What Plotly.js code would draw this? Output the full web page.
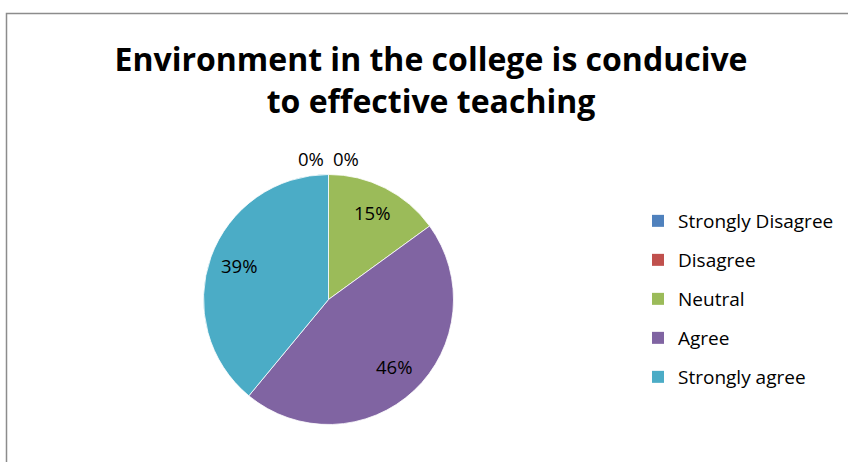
<!DOCTYPE html>
<html>
<head>
<meta charset="utf-8">
<script src="https://cdn.plot.ly/plotly-3.0.1.min.js"></script>
<style>html,body{margin:0;padding:0;background:#fff;}#chart{width:848px;height:462px;}</style>
</head>
<body>
<div id="chart"></div>
<script>
const categories = ["Strongly Disagree", "Disagree", "Neutral", "Agree", "Strongly agree"];
const values = [0, 0, 15, 46, 39];
const colors = ["#4F81BD", "#C0504D", "#9BBB59", "#8064A2", "#4BACC6"];
const titleLine1 = "Environment in the college is conducive";
const titleLine2 = "to effective teaching";

const FONT = "'Open Sans', sans-serif";
const W = 848, H = 462;
const CX = 328.5, CY = 299.5, R = 125;

const pie = {
  type: "pie",
  labels: categories,
  values: values,
  sort: false,
  direction: "clockwise",
  rotation: 0,
  marker: {colors: colors, line: {color: "#ffffff", width: 0.8}},
  textinfo: "none",
  domain: {x: [(CX - R) / W, (CX + R) / W], y: [1 - (CY + R) / H, 1 - (CY - R) / H]},
  showlegend: false,
  hoverinfo: "label+value"
};

const legendTraces = categories.map((c, i) => ({
  type: "scatter",
  x: [null], y: [null],
  mode: "markers",
  name: c,
  legendgroup: "g" + i,
  marker: {symbol: "square", size: 12, color: colors[i], line: {width: 0}},
  hoverinfo: "skip"
}));

// data labels placed along each slice's bisector (derived from the values)
const total = values.reduce((a, b) => a + b, 0);
const annotations = [];
let cum = 0;
const zeroIdx = values.map((v, i) => v === 0 ? i : -1).filter(i => i >= 0);
values.forEach((v, i) => {
  const mid = (cum + v / 2) / total * 2 * Math.PI;
  cum += v;
  const pct = Math.round(v / total * 100) + "%";
  let px, py;
  if (v === 0) {
    const k = zeroIdx.indexOf(i);
    px = CX + (R + 16) * Math.sin(mid) + (k - (zeroIdx.length - 1) / 2) * 35;
    py = CY - (R + 16) * Math.cos(mid);
  } else {
    px = CX + 0.76 * R * Math.sin(mid);
    py = CY - 0.76 * R * Math.cos(mid) - 2;
  }
  annotations.push({
    x: px / W, y: 1 - py / H, xref: "paper", yref: "paper",
    text: pct, showarrow: false, xanchor: "center", yanchor: "middle",
    font: {family: FONT, size: 18.5, color: "#000"}
  });
});

const layout = {
  width: W, height: H,
  margin: {l: 0, r: 0, t: 0, b: 0},
  paper_bgcolor: "#ffffff",
  plot_bgcolor: "#ffffff",
  font: {family: FONT, color: "#000"},
  title: {
    text: titleLine1 + "<br>" + titleLine2,
    font: {family: FONT, size: 32, weight: "bold", color: "#000"},
    x: 431 / W, xanchor: "center",
    y: 1 - 71 / H, yanchor: "top"
  },
  xaxis: {visible: false, domain: [0.9, 1]},
  yaxis: {visible: false, domain: [0.9, 1]},
  showlegend: true,
  legend: {
    x: 638 / W, xanchor: "left",
    y: 1 - 202 / H, yanchor: "top",
    font: {family: FONT, size: 19, color: "#000"},
    tracegroupgap: 11.3,
    bgcolor: "rgba(0,0,0,0)",
    borderwidth: 0
  },
  annotations: annotations,
  shapes: [{
    type: "rect", xref: "paper", yref: "paper",
    x0: 6.5 / W, x1: 1.2, y0: -0.2, y1: 1 - 13.5 / H,
    line: {color: "#8c8c8c", width: 1.5},
    fillcolor: "rgba(0,0,0,0)"
  }]
};

Plotly.newPlot("chart", [pie].concat(legendTraces), layout, {displayModeBar: false, staticPlot: true});
</script>
</body>
</html>
